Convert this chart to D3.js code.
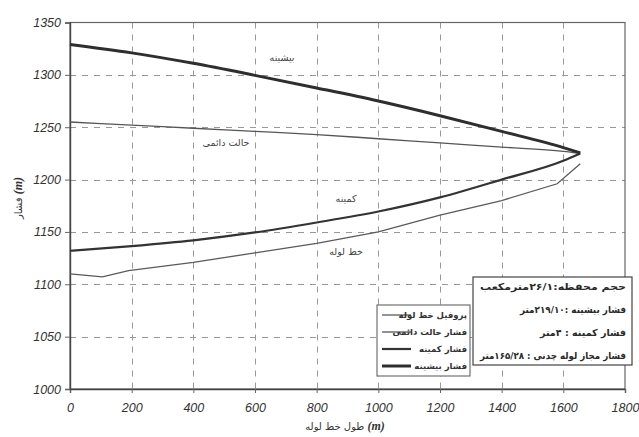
<!DOCTYPE html>
<html>
<head>
<meta charset="utf-8">
<script src="https://cdn.jsdelivr.net/npm/d3@7/dist/d3.min.js"></script>
<style>
  html, body { margin: 0; padding: 0; background: #fff; }
  svg { display: block; }
  .tick text { font-style: italic; }
</style>
</head>
<body>
<svg id="chart" width="639" height="437"></svg>
<script>
// Distance along the pipeline (m) where pressure heads were sampled
const distance = [0, 200, 400, 600, 800, 1000, 1200, 1400, 1600, 1655];
// Pressure heads (m)
const maxHead    = [1329, 1321, 1311, 1299.5, 1287.5, 1275, 1261, 1246, 1230.5, 1225.5];
const steadyHead = [1255, 1252, 1249, 1246, 1243, 1239, 1235, 1231, 1227, 1225];
const minHead    = [1132, 1136.5, 1142, 1149.5, 1159, 1169.5, 1183, 1200, 1218, 1225];
// Pipeline profile
const profileDistance = [0, 105, 190, 400, 600, 800, 1000, 1200, 1400, 1580, 1655];
const profileElev     = [1110, 1107, 1113, 1121, 1130, 1139, 1150, 1166, 1180, 1196, 1215];

const xTicks = [0, 200, 400, 600, 800, 1000, 1200, 1400, 1600, 1800];
const yTicks = [1000, 1050, 1100, 1150, 1200, 1250, 1300, 1350];

const legendLabels = ["پروفیل خط لوله", "فشار حالت دائمی", "فشار کمینه", "فشار بیشینه"];
const curveLabels = ["بیشینه", "حالت دائمی", "کمینه", "خط لوله"];
const infoLines = [
  "حجم محفظه:۲۶/۱مترمکعب",
  "فشار بیشینه :۲۱۹/۱۰متر",
  "فشار کمینه : ۴متر",
  "فشار مجاز لوله چدنی : ۱۶۵/۲۸متر"
];

const svg = d3.select("#chart");
const plotLeft = 70, plotRight = 625, plotTop = 22.5, plotBottom = 389;

const x = d3.scaleLinear().domain([0, 1800]).range([plotLeft, plotRight]);
const y = d3.scaleLinear().domain([1000, 1350]).range([plotBottom, plotTop]);

// dashed grid
const grid = svg.append("g");
grid.selectAll("line.h").data(yTicks.slice(1, -1)).join("line")
  .attr("x1", plotLeft).attr("x2", plotRight)
  .attr("y1", d => Math.round(y(d)) + 0.5).attr("y2", d => Math.round(y(d)) + 0.5)
  .attr("stroke", "#999").attr("stroke-width", 1).attr("stroke-dasharray", "6,6");
grid.selectAll("line.v").data(xTicks.slice(1, -1)).join("line")
  .attr("x1", d => Math.round(x(d)) + 0.5).attr("x2", d => Math.round(x(d)) + 0.5)
  .attr("y1", plotTop).attr("y2", plotBottom)
  .attr("stroke", "#999").attr("stroke-width", 1).attr("stroke-dasharray", "6,6");

// frame
svg.append("rect").attr("x", plotLeft).attr("y", plotTop)
  .attr("width", plotRight - plotLeft).attr("height", plotBottom - plotTop)
  .attr("fill", "none").attr("stroke", "#666").attr("stroke-width", 1.2);

// axes
const xAxis = svg.append("g").attr("transform", `translate(0,${plotBottom})`)
  .call(d3.axisBottom(x).tickValues(xTicks).tickSize(4).tickPadding(10).tickFormat(d3.format("d")));
const yAxis = svg.append("g").attr("transform", `translate(${plotLeft},0)`)
  .call(d3.axisLeft(y).tickValues(yTicks).tickSize(5).tickPadding(4).tickFormat(d3.format("d")));
[xAxis, yAxis].forEach(g => {
  g.attr("font-family", "'Liberation Sans', Arial, sans-serif")
   .attr("font-style", "italic").attr("font-size", 12.5);
  g.select(".domain").attr("stroke", "#444").attr("stroke-width", 1.4);
  g.selectAll(".tick line").attr("stroke", "#666");
  g.selectAll(".tick text")
    .attr("fill", "#333")
    .style("font-family", "'Liberation Sans', Arial, sans-serif")
    .style("font-style", "italic")
    .style("font-size", "12.5px");
});

// curves
const smooth = d3.line().x(d => x(d[0])).y(d => y(d[1])).curve(d3.curveMonotoneX);
const straight = d3.line().x(d => x(d[0])).y(d => y(d[1]));
const zip = (a, b) => a.map((v, i) => [v, b[i]]);

svg.append("path").datum(zip(profileDistance, profileElev)).attr("d", straight)
  .attr("fill", "none").attr("stroke", "#5a5a5a").attr("stroke-width", 1.3);
svg.append("path").datum(zip(distance, steadyHead)).attr("d", smooth)
  .attr("fill", "none").attr("stroke", "#555").attr("stroke-width", 1.3);
svg.append("path").datum(zip(distance, minHead)).attr("d", smooth)
  .attr("fill", "none").attr("stroke", "#333").attr("stroke-width", 2.2);
svg.append("path").datum(zip(distance, maxHead)).attr("d", smooth)
  .attr("fill", "none").attr("stroke", "#2e2e2e").attr("stroke-width", 3);

// curve labels
const labelPos = [[282, 61], [226, 146], [346, 202], [346, 255]];
svg.selectAll("text.curve").data(curveLabels).join("text")
  .attr("class", "curve")
  .attr("x", (d, i) => labelPos[i][0]).attr("y", (d, i) => labelPos[i][1])
  .attr("text-anchor", "middle").attr("direction", "rtl")
  .attr("fill", "#444")
  .style("font-family", "'DejaVu Sans', sans-serif")
  .style("font-size", "9.5px")
  .text(d => d);

// axis titles
const xt = svg.append("text").attr("x", 345).attr("y", 430)
  .attr("text-anchor", "middle").attr("fill", "#333")
  .style("font-family", "'DejaVu Sans', sans-serif").style("font-size", "10px");
xt.append("tspan").text("طول خط لوله ");
xt.append("tspan").text("(m)").style("font-family", "'Liberation Serif', serif")
  .style("font-style", "italic").style("font-weight", "bold").style("font-size", "12px");

const yt = svg.append("text").attr("transform", "translate(22,198) rotate(-90)")
  .attr("text-anchor", "middle").attr("fill", "#333")
  .style("font-family", "'DejaVu Sans', sans-serif").style("font-size", "10px");
yt.append("tspan").text("فشار ");
yt.append("tspan").text("(m)").style("font-family", "'Liberation Serif', serif")
  .style("font-style", "italic").style("font-weight", "bold").style("font-size", "12px");

// legend
const lg = svg.append("g");
const lgX = 377, lgY = 305, lgW = 93, lgH = 71, lgStep = 17;
lg.append("rect").attr("x", lgX).attr("y", lgY).attr("width", lgW).attr("height", lgH)
  .attr("fill", "#fff").attr("stroke", "#555").attr("stroke-width", 1);
const lgStyles = [
  { c: "#5a5a5a", w: 1.3 }, { c: "#555", w: 1.3 }, { c: "#333", w: 2.2 }, { c: "#2e2e2e", w: 3 }
];
legendLabels.forEach((t, i) => {
  const cy = lgY + 10 + i * lgStep;
  lg.append("line").attr("x1", lgX + 5).attr("x2", lgX + 34).attr("y1", cy).attr("y2", cy)
    .attr("stroke", lgStyles[i].c).attr("stroke-width", lgStyles[i].w);
  lg.append("text").attr("x", lgX + lgW - 3).attr("y", cy + 3)
    .attr("text-anchor", "end").attr("fill", "#333")
    .style("font-family", "'DejaVu Sans', sans-serif")
    .style("font-size", "8.5px").style("font-weight", "bold")
    .text(t);
});

// info box
const ib = svg.append("g");
const ibX = 473, ibY = 277, ibW = 159, ibH = 88;
const infoWidths = [146, 106, 86, 146];
ib.append("rect").attr("x", ibX).attr("y", ibY).attr("width", ibW).attr("height", ibH)
  .attr("fill", "#fff").attr("stroke", "#444").attr("stroke-width", 1.2);
infoLines.forEach((t, i) => {
  ib.append("text").attr("x", ibX + ibW - 6).attr("y", ibY + 13 + i * 23)
    .attr("text-anchor", "end").attr("fill", "#2a2a2a")
    .attr("textLength", infoWidths[i]).attr("lengthAdjust", "spacingAndGlyphs")
    .style("font-family", "'DejaVu Sans', sans-serif")
    .style("font-size", "9.5px").style("font-weight", "bold")
    .text(t);
});
</script>
</body>
</html>
